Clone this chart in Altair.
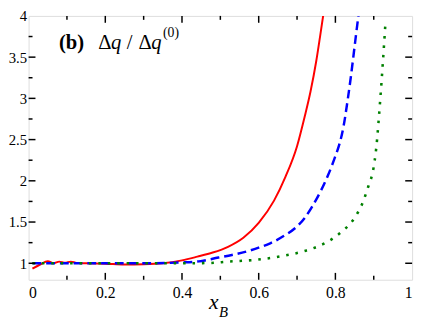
import altair as alt
import pandas as pd

# ---- data ----
red_x = [0.01, 0.03, 0.05, 0.065, 0.08, 0.095, 0.11, 0.125, 0.15, 0.2, 0.25, 0.3, 0.35, 0.4,
         0.44, 0.48, 0.52, 0.56, 0.6, 0.64, 0.67, 0.7, 0.72, 0.735, 0.75, 0.76, 0.768]
red_y = [0.935, 0.985, 1.025, 1.0, 1.02, 1.005, 1.02, 1.005, 1.0, 0.995, 0.985, 0.988, 1.0, 1.035,
         1.08, 1.13, 1.2, 1.31, 1.49, 1.76, 2.05, 2.42, 2.78, 3.08, 3.45, 3.75, 4.0]

blue_x = [0.01, 0.1, 0.2, 0.3, 0.4, 0.444, 0.495, 0.53, 0.571, 0.6, 0.63, 0.665, 0.697, 0.72,
          0.739, 0.76, 0.781, 0.8, 0.811, 0.82, 0.832, 0.84, 0.848, 0.854, 0.86]
blue_y = [1.0, 1.0, 1.0, 1.0, 1.01, 1.023, 1.069, 1.1, 1.146, 1.19, 1.242, 1.33, 1.435, 1.55,
          1.684, 1.86, 2.07, 2.3, 2.453, 2.63, 2.98, 3.25, 3.55, 3.78, 4.0]

green_x = [0.01, 0.1, 0.2, 0.3, 0.4, 0.47, 0.52, 0.592, 0.663, 0.731, 0.777, 0.815, 0.847, 0.87,
           0.886, 0.899, 0.906, 0.917, 0.924, 0.931]
green_y = [1.0, 1.0, 1.0, 1.0, 1.0, 1.003, 1.02, 1.042, 1.089, 1.165, 1.254, 1.377, 1.53, 1.723,
           1.934, 2.145, 2.376, 2.99, 3.45, 3.95]

x_major = [0.2, 0.4, 0.6, 0.8]
x_minor = [0.1, 0.3, 0.5, 0.7, 0.9]
y_major = [1.0, 1.5, 2.0, 2.5, 3.0, 3.5]
y_minor = [1.25, 1.75, 2.25, 2.75, 3.25, 3.75]
x_labels = [0, 0.2, 0.4, 0.6, 0.8, 1]
y_labels = [1, 1.5, 2, 2.5, 3, 3.5, 4]

W, H = 391, 269
FONT = "Liberation Serif"

frames = []
for name, xv, yv in [("red", red_x, red_y), ("blue", blue_x, blue_y), ("green", green_x, green_y)]:
    frames.append(pd.DataFrame({"x": xv, "y": yv, "s": name, "o": range(len(xv))}))
df = pd.concat(frames, ignore_index=True)

xs = alt.Scale(domain=[0, 1], nice=False, zero=False)
ys = alt.Scale(domain=[0.8, 4], nice=False, zero=False)

xaxis = alt.Axis(values=x_labels, format="~g", title=None, ticks=False, domain=False, grid=False,
                 labelFont=FONT, labelFontSize=16, labelColor="black", labelPadding=5)
yaxis = alt.Axis(values=y_labels, format="~g", title=None, ticks=False, domain=False, grid=False,
                 labelFont=FONT, labelFontSize=15, labelColor="black", labelPadding=2)

X = lambda f: alt.X(f, scale=xs, axis=xaxis, title=None)
Y = lambda f: alt.Y(f, scale=ys, axis=yaxis, title=None)

base = alt.Chart(df)

red = base.transform_filter(alt.datum.s == "red").mark_line(
    color="#ff0000", strokeWidth=2, clip=True, interpolate="monotone"
).encode(x=X("x:Q"), y=Y("y:Q"), order="o:Q")

blue = base.transform_filter(alt.datum.s == "blue").mark_line(
    color="#0000ff", strokeWidth=2.5, strokeDash=[9, 5], clip=True, interpolate="monotone"
).encode(x=X("x:Q"), y=Y("y:Q"), order="o:Q")

green = base.transform_filter(alt.datum.s == "green").mark_line(
    color="#008000", strokeWidth=2.6, strokeDash=[2.6, 7], clip=True, interpolate="monotone"
).encode(x=X("x:Q"), y=Y("y:Q"), order="o:Q")


def xticks(vals, length):
    d = alt.Chart(pd.DataFrame({"x": vals}))
    bot = d.mark_rule(color="black", strokeWidth=1.5).encode(
        x=X("x:Q"), y=alt.value(H), y2=alt.value(H - length))
    top = d.mark_rule(color="black", strokeWidth=1.5).encode(
        x=X("x:Q"), y=alt.value(0), y2=alt.value(length))
    return [bot, top]


def yticks(vals, length):
    d = alt.Chart(pd.DataFrame({"y": vals}))
    left = d.mark_rule(color="black", strokeWidth=1.5).encode(
        y=Y("y:Q"), x=alt.value(0), x2=alt.value(length))
    right = d.mark_rule(color="black", strokeWidth=1.5).encode(
        y=Y("y:Q"), x=alt.value(W), x2=alt.value(W - length))
    return [left, right]


ticks = xticks(x_major, 7) + xticks(x_minor, 4) + yticks(y_major, 7) + yticks(y_minor, 4)

one = pd.DataFrame({"a": [0]})


def txt(s, x, y, size, weight="normal", style="normal"):
    return alt.Chart(one).mark_text(
        text=s, font=FONT, fontSize=size, fontWeight=weight, fontStyle=style,
        align="left", baseline="alphabetic", color="black"
    ).encode(x=alt.value(x), y=alt.value(y))


texts = [
    txt("(b)", 31, 34, 21, weight="bold"),
    txt("\u0394", 71, 34, 21),
    txt("q", 84, 34, 21, style="italic"),
    txt("/", 100, 34, 21),
    txt("\u0394", 112, 34, 21),
    txt("q", 125, 34, 21, style="italic"),
    txt("(0)", 137, 22, 14),
    txt("x", 184, 299, 22, style="italic"),
    txt("B", 194, 307, 15, style="italic"),
]

chart = alt.layer(red, blue, green, *ticks, *texts).properties(
    width=W, height=H,
    autosize=alt.AutoSizeParams(type="none"),
    padding={"left": 21, "top": 5, "right": 5, "bottom": 40},
    background="white",
).configure_view(
    stroke="black", strokeWidth=2
).configure_axis(
    labelFont=FONT, labelColor="black"
).configure(font=FONT)

chart.save("out.html", embed_options={"renderer": "svg", "actions": False})
